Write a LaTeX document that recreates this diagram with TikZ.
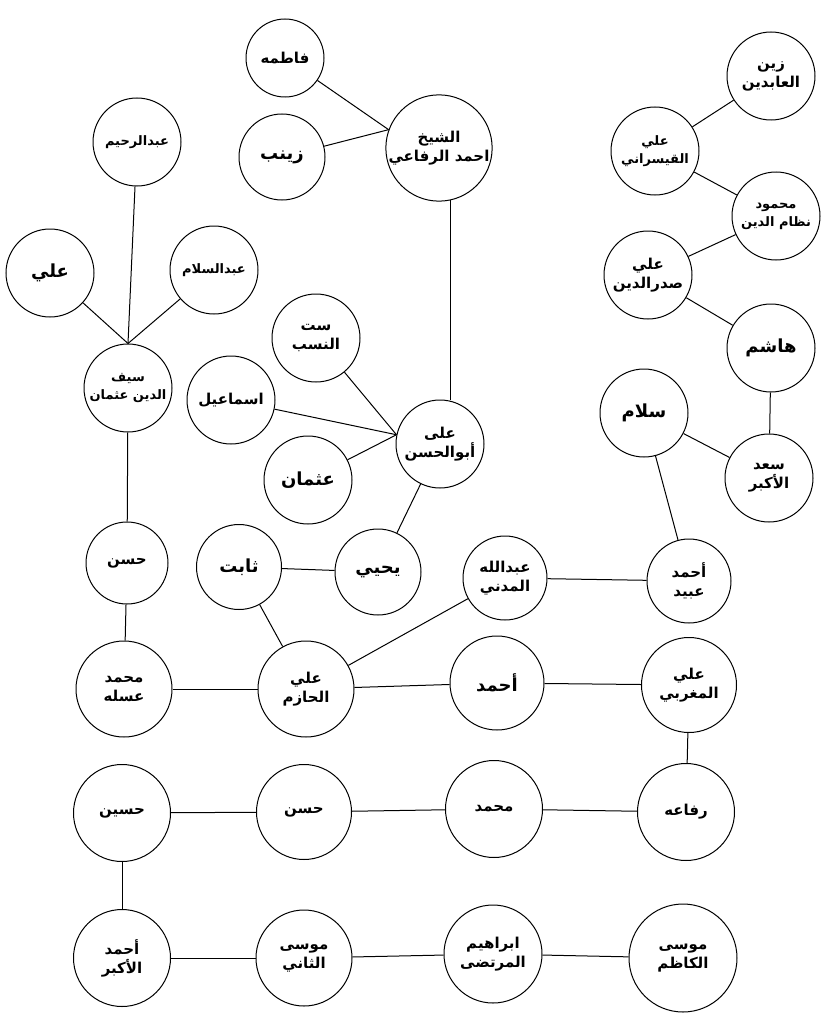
\documentclass[tikz,border=0pt]{standalone}
\usepackage{fontspec}
\newfontfamily\arabicfont[Script=Arabic]{DejaVu Sans}
\TeXXeTstate=1
\newcommand{\ar}[1]{\beginR #1\endR}
\usetikzlibrary{positioning}
\tikzset{
  person/.style={circle, draw, line width=1pt, minimum size=88pt, inner sep=0pt,
    align=center, font=\arabicfont\bfseries\fontsize{15}{19}\selectfont},
  longname/.style={font=\arabicfont\bfseries\fontsize{13}{18}\selectfont},
  bigname/.style={font=\arabicfont\bfseries\fontsize{18}{22}\selectfont},
  link/.style={line width=1pt}
}
\begin{document}
\begin{tikzpicture}[x=1pt, y=-1pt]
    \useasboundingbox (0,0) rectangle (820,1014);

    \node[person, minimum size=78pt] (fatima) at (285,58) {\ar{فاطمه}};
    \node[person, bigname, minimum size=86pt] (zaynab) at (282,157) {\ar{زينب}};
    \node[person, minimum size=98pt] (rifai) at (439,148) {\ar{الشيخ}\\\ar{احمد الرفاعي}};
    \node[person, longname] (abdrahim) at (137,142) {\ar{عبدالرحيم}};
    \node[person, bigname] (ali) at (50,273) {\ar{علي}};
    \node[person, longname] (abdsalam) at (214,270) {\ar{عبدالسلام}};
    \node[person, longname] (saif) at (128,388) {\ar{سيف}\\\ar{الدين عثمان}};
    \node[person] (sitt) at (316,338) {\ar{ست}\\\ar{النسب}};
    \node[person] (ismail) at (231,400) {\ar{اسماعيل}};
    \node[person, bigname] (uthman) at (308,480) {\ar{عثمان}};
    \node[person] (abuhasan) at (440,444) {\ar{على}\\\ar{أبوالحسن}};

    \node[person] (zayn) at (771,76) {\ar{زين}\\\ar{العابدين}};
    \node[person, longname] (qaysarani) at (655,151) {\ar{علي}\\\ar{القيسراني}};
    \node[person, longname] (nizam) at (776,216) {\ar{محمود}\\\ar{نظام الدين}};
    \node[person] (sadr) at (648,275) {\ar{علي}\\\ar{صدرالدين}};
    \node[person, bigname] (hashim) at (771,348) {\ar{هاشم}};
    \node[person, bigname] (sallam) at (644,413) {\ar{سلام}};
    \node[person] (saad) at (769,478) {\ar{سعد}\\\ar{الأكبر}};

    \node[person, minimum size=82pt] (hasanA) at (127,563) {\ar{حسن}};
    \node[person, bigname, minimum size=85pt] (thabit) at (239,567) {\ar{ثابت}};
    \node[person, bigname, minimum size=86pt] (yahya) at (378,572) {\ar{يحيي}};
    \node[person, minimum size=84pt] (abdallah) at (505,578) {\ar{عبدالله}\\\ar{المدني}};
    \node[person, minimum size=84pt] (ubayd) at (689,581) {\ar{أحمد}\\\ar{عبيد}};

    \node[person, minimum size=96pt] (asala) at (124,689) {\ar{محمد}\\\ar{عسله}};
    \node[person, minimum size=96pt] (hazim) at (306,689) {\ar{علي}\\\ar{الحازم}};
    \node[person, bigname, minimum size=94pt] (ahmad) at (497,683) {\ar{أحمد}};
    \node[person, minimum size=95pt] (maghribi) at (689,685) {\ar{علي}\\\ar{المغربي}};

    \node[person, minimum size=97pt] (husayn) at (122,813) {\ar{حسين}};
    \node[person, minimum size=95pt] (hasanB) at (304,812) {\ar{حسن}};
    \node[person, minimum size=97pt] (muhammad) at (494,809) {\ar{محمد}};
    \node[person, minimum size=97pt] (rifaa) at (686,812) {\ar{رفاعه}};

    \node[person, minimum size=97pt] (akbar) at (122,958) {\ar{أحمد}\\\ar{الأكبر}};
    \node[person, minimum size=96pt] (thani) at (304,958) {\ar{موسى}\\\ar{الثاني}};
    \node[person, minimum size=98pt] (ibrahim) at (493,954) {\ar{ابراهيم}\\\ar{المرتضى}};
    \node[person, minimum size=108pt] (kazim) at (683,958) {\ar{موسى}\\\ar{الكاظم}};

    \draw[link] (fatima) -- (rifai.160);
    \draw[link] (zaynab) -- (rifai.160);
    \draw[link] (rifai.-78) -- (abuhasan.north -| rifai.-78);
    \draw[link] (abdrahim) -- (saif.north);
    \draw[link] (ali) -- (saif.north);
    \draw[link] (abdsalam) -- (saif.north);
    \draw[link] (saif) -- (hasanA);
    \draw[link] (hasanA) -- (asala);
    \draw[link] (sitt) -- (abuhasan.168);
    \draw[link] (ismail) -- (abuhasan.168);
    \draw[link] (uthman) -- (abuhasan.168);
    \draw[link] (abuhasan) -- (yahya);
    \draw[link] (yahya) -- (thabit);
    \draw[link] (thabit) -- (hazim);
    \draw[link] (hazim) -- (abdallah);
    \draw[link] (abdallah) -- (ubayd);
    \draw[link] (ubayd) -- (sallam);
    \draw[link] (sallam) -- (saad);
    \draw[link] (saad) -- (hashim);
    \draw[link] (hashim) -- (sadr);
    \draw[link] (sadr) -- (nizam);
    \draw[link] (nizam) -- (qaysarani);
    \draw[link] (qaysarani) -- (zayn);
    \draw[link] (asala) -- (hazim);
    \draw[link] (hazim) -- (ahmad);
    \draw[link] (ahmad) -- (maghribi);
    \draw[link] (maghribi) -- (rifaa);
    \draw[link] (rifaa) -- (muhammad);
    \draw[link] (muhammad) -- (hasanB);
    \draw[link] (hasanB) -- (husayn);
    \draw[link] (husayn) -- (akbar);
    \draw[link] (akbar) -- (thani);
    \draw[link] (thani) -- (ibrahim);
    \draw[link] (ibrahim) -- (kazim);
\end{tikzpicture}
\end{document}
